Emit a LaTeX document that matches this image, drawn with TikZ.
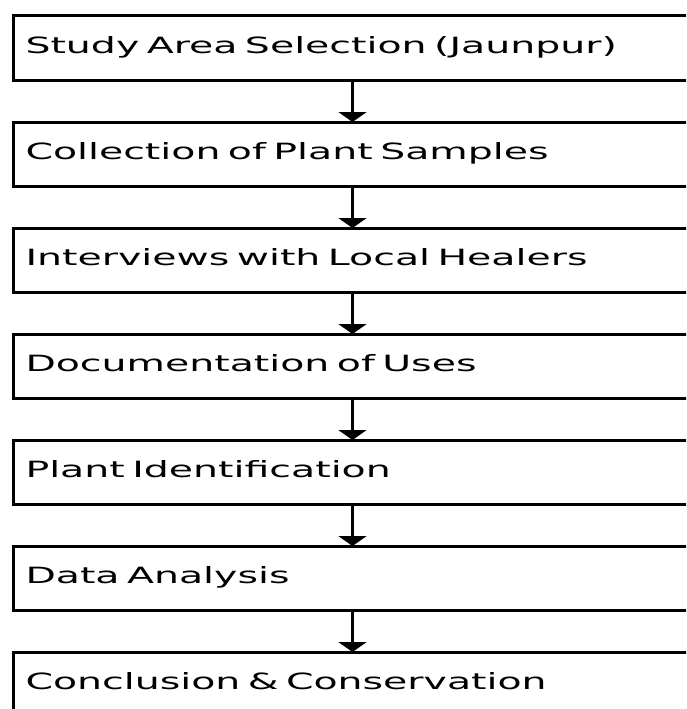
\documentclass[tikz,border=0pt]{standalone}
\usepackage{fontspec}
\newfontfamily\stepfont[FakeStretch=1.76]{DejaVu Sans}
\usepackage{tikz}
\usetikzlibrary{positioning, arrows.meta}
\tikzset{
    base/.style={draw, rectangle, line width=3pt, outer sep=0pt, minimum height=64pt, text width=680pt, inner xsep=12pt, align=left, text height=16pt, text depth=6pt, font=\stepfont\fontsize{22.4}{26}\selectfont},
    arrow/.style={line width=3.5pt, -{Triangle[width=28pt, length=10pt]}}
}

\begin{document}
\begin{tikzpicture}[x=1pt, y=1pt]
\useasboundingbox (0,0) rectangle (686,-709);
\clip (0,0) rectangle (686,-709);
\node[base, anchor=north west] (area) at (13.5,-16) {Study Area Selection (Jaunpur)};
\node[base, below=42pt of area] (collect) {Collection of Plant Samples};
\node[base, below=42pt of collect] (interv) {Interviews with Local Healers};
\node[base, below=42pt of interv] (docu) {Documentation of Uses};
\node[base, below=42pt of docu] (ident) {Plant Identification};
\node[base, below=42pt of ident] (analysis) {Data Analysis};
\node[base, below=42pt of analysis] (concl) {Conclusion \& Conservation};
\draw[arrow] ([xshift=339pt]area.south west) -- ([xshift=339pt]collect.north west);
\draw[arrow] ([xshift=339pt]collect.south west) -- ([xshift=339pt]interv.north west);
\draw[arrow] ([xshift=339pt]interv.south west) -- ([xshift=339pt]docu.north west);
\draw[arrow] ([xshift=339pt]docu.south west) -- ([xshift=339pt]ident.north west);
\draw[arrow] ([xshift=339pt]ident.south west) -- ([xshift=339pt]analysis.north west);
\draw[arrow] ([xshift=339pt]analysis.south west) -- ([xshift=339pt]concl.north west);
\end{tikzpicture}
\end{document}
